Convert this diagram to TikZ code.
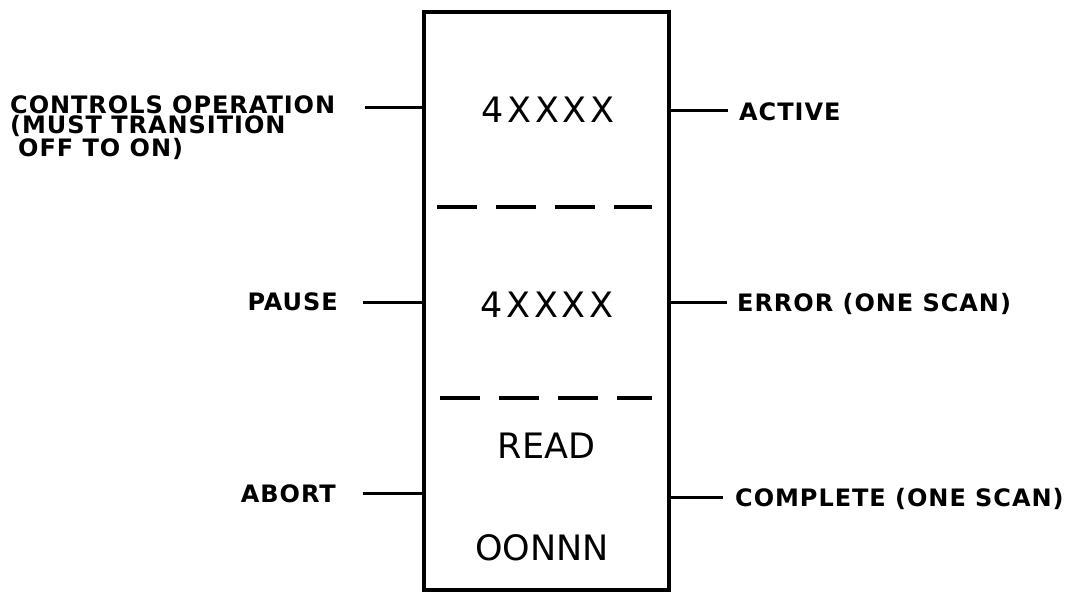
\documentclass[tikz,border=0pt]{standalone}
\usepackage{fontspec}
\newfontfamily\labfont[LetterSpace=4]{DejaVu Sans}
\newfontfamily\boxfont{DejaVu Sans}
\newfontfamily\wideboxfont[LetterSpace=11]{DejaVu Sans}
\begin{document}
\begin{tikzpicture}[x=1pt,y=-1pt,
  lab/.style={font=\labfont\bfseries\fontsize{24}{20}\selectfont, inner sep=0pt},
  inlab/.style={font=\boxfont\fontsize{35}{40}\selectfont, inner sep=0pt, anchor=base},
  inlabw/.style={font=\wideboxfont\fontsize{35}{40}\selectfont, inner sep=0pt, anchor=base},
  wire/.style={line width=3pt},
  sepline/.style={line width=3.5pt, dash pattern=on 40pt off 19pt}]
\useasboundingbox (0,0) rectangle (1087,595);
\node[draw, line width=3.3pt, minimum width=245pt, minimum height=578pt, inner sep=0pt] (box) at (546.5,301) {};
% inside texts
\node[inlabw] (op1) at (548,122) {4XXXX};
\node[inlabw] (op2) at (547,317) {4XXXX};
\node[inlab] (rd) at (546.5,458) {READ};
\node[inlab] (nn) at (542,560) {OONNN};
\draw[sepline] (437,207) -- (652,207);
\draw[sepline] (440,398) -- (652,398);
% left labels
\node[lab, align=left, anchor=base west] (ctl) at (10,156) {CONTROLS OPERATION\\(MUST TRANSITION\\\hspace{8pt}OFF TO ON)};
\node[lab, anchor=base east] (pause) at (338,310) {PAUSE};
\node[lab, anchor=base east] (abort) at (336,502) {ABORT};
% right labels
\node[lab, anchor=base west] (active) at (739,120) {ACTIVE};
\node[lab, anchor=base west] (error) at (737,311) {ERROR (ONE SCAN)};
\node[lab, anchor=base west] (complete) at (735,506) {COMPLETE (ONE SCAN)};
% stubs
\coordinate (ctlS) at (365,107);
\coordinate (pauseS) at (363,302);
\coordinate (abortS) at (363,493);
\coordinate (activeS) at (728,110);
\coordinate (errorS) at (727,302);
\coordinate (completeS) at (723,497);
\draw[wire] (ctlS) -- (ctlS -| box.west);
\draw[wire] (pauseS) -- (pauseS -| box.west);
\draw[wire] (abortS) -- (abortS -| box.west);
\draw[wire] (box.east |- activeS) -- (activeS);
\draw[wire] (box.east |- errorS) -- (errorS);
\draw[wire] (box.east |- completeS) -- (completeS);
\end{tikzpicture}
\end{document}
